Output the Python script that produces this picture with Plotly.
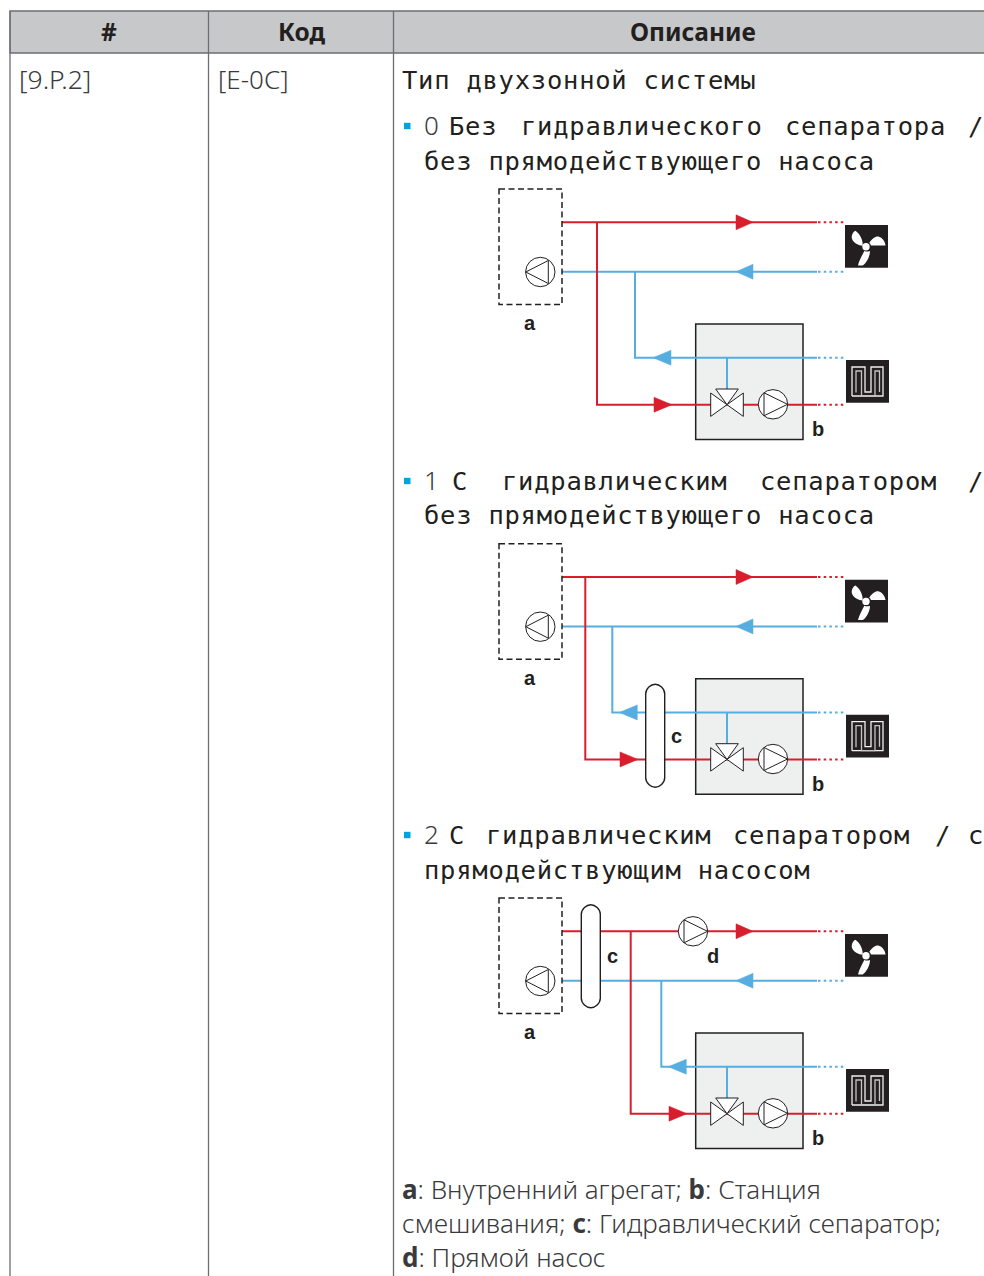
import plotly.graph_objects as go

W, H = 984, 1276
HEADERS = ["#", "Код", "Описание"]
HEADER_X = [108.5, 301, 693]
COL_LINES = [10, 208.5, 393.5]
ROW_ID = "[9.P.2]"
ROW_CODE = "[E-0C]"

# text runs: (x, y, text)
MONO_RUNS = [
    (401, 80, "Тип двухзонной системы"),
    (448, 125.5, "Без"), (520, 125.5, "гидравлического"), (784, 125.5, "сепаратора"), (967, 125.5, "/"),
    (423, 160.5, "без прямодействующего насоса"),
    (451, 480.5, "С"), (501, 480.5, "гидравлическим"), (759, 480.5, "сепаратором"), (967, 480.5, "/"),
    (423, 514.5, "без прямодействующего насоса"),
    (448, 834.5, "С"), (485, 834.5, "гидравлическим"), (732, 834.5, "сепаратором"), (934, 834.5, "/"), (967, 834.5, "с"),
    (423, 869.5, "прямодействующим насосом"),
]
BULLET_Y = [126, 481, 835]
BULLET_LABELS = ["0", "1", "2"]
LEGEND_LINES = [
    (1189, "<b>a</b>: Внутренний агрегат; <b>b</b>: Станция"),
    (1223, "смешивания; <b>c</b>: Гидравлический сепаратор;"),
    (1257, "<b>d</b>: Прямой насос"),
]

# diagram parameters
DY = [0, 354.7, 709]
RED_BRANCH_X = [597, 585.3, 630.7]
BLUE_BRANCH_X = [635, 612.3, 661.3]
RED_ARROW_X = [654, 620, 669]
BLUE_ARROW_X = [653, 619.3, 668.3]
SEPARATORS = [None, (645.7, 664.7, 684.3, 787.3, 676, 736), (581.3, 600.3, 904.7, 1007.7, 612, 956)]

RED = "#d81e2c"
BLUE = "#56ade0"
DARK = "#231f20"
GRID = "#6d6e71"
BODY_FONT = "Noto Sans"
MONO_FONT = "DejaVu Sans Mono"
LABEL_FONT = "Liberation Sans"

fig = go.Figure()
shapes, anns = [], []


def text(x, y, s, font, size, color=DARK, anchor="left", weight=None, spacing=None):
    f = dict(family=font, size=size, color=color)
    if weight:
        f["weight"] = weight
    if spacing:
        s = f'<span style="letter-spacing:{spacing}px">{s}</span>'
    anns.append(dict(x=x, y=y, text=s, xref="x", yref="y", showarrow=False, xanchor=anchor,
                     yanchor="middle", font=f, borderpad=0, align="left"))


def line(xs, ys, color, dash=None, width=2):
    fig.add_trace(go.Scatter(x=xs, y=ys, mode="lines", hoverinfo="skip", showlegend=False,
                             line=dict(color=color, width=width, dash=dash or "solid")))


def poly(pts, fill, edge, w=1.0, layer="above"):
    p = "M" + " L".join(f"{x},{y}" for x, y in pts) + " Z"
    shapes.append(dict(type="path", path=p, xref="x", yref="y", fillcolor=fill,
                       line=dict(color=edge, width=w), layer=layer))


def arrow(tip, base, y, color):
    poly([(tip, y), (base, y - 7.5), (base, y + 7.5)], color, color, 0.5)


def pump(cx, cy, right=True):
    shapes.append(dict(type="circle", xref="x", yref="y", x0=cx - 14.7, x1=cx + 14.7, y0=cy - 14.7, y1=cy + 14.7,
                       fillcolor="white", line=dict(color=DARK, width=1)))
    if right:
        poly([(cx - 9, cy - 11.5), (cx + 14.5, cy), (cx - 9, cy + 11.5)], "white", DARK, 1)
    else:
        poly([(cx + 8, cy - 11.5), (cx - 14.5, cy), (cx + 8, cy + 11.5)], "white", DARK, 1)


def separator(x0, x1, y0, y1):
    r = (x1 - x0) / 2
    k = r * 0.45
    xm = (x0 + x1) / 2
    p = (f"M{x0},{y0 + r} C{x0},{y0 + k} {xm - k},{y0} {xm},{y0} C{xm + k},{y0} {x1},{y0 + k} {x1},{y0 + r} "
         f"L{x1},{y1 - r} C{x1},{y1 - k} {xm + k},{y1} {xm},{y1} C{xm - k},{y1} {x0},{y1 - k} {x0},{y1 - r} Z")
    shapes.append(dict(type="path", path=p, xref="x", yref="y", fillcolor="white", line=dict(color=DARK, width=1.4)))


def fan(dy):
    cx, cy = 866, 246.7 + dy
    shapes.append(dict(type="rect", xref="x", yref="y", x0=845, x1=888, y0=225 + dy, y1=267.7 + dy,
                       fillcolor=DARK, line=dict(width=0)))
    blades = [
        f"M{cx-3.3},{cy-1} C{cx-3},{cy-7} {cx-6},{cy-13} {cx-10.7},{cy-16} C{cx-13},{cy-15} {cx-15},{cy-11} {cx-14},{cy-8} C{cx-13},{cy-4} {cx-7},{cy-1} {cx-3.3},{cy-1} Z",
        f"M{cx+3.3},{cy-4} C{cx+6},{cy-8} {cx+10},{cy-11} {cx+13},{cy-10} C{cx+16},{cy-9} {cx+19},{cy-6} {cx+19.5},{cy-1.3} L{cx+5},{cy-1.3} Q{cx+4.5},{cy-3} {cx+3.3},{cy-4} Z",
        f"M{cx-1.7},{cy+4.3} C{cx-4},{cy+9} {cx-7},{cy+14} {cx-8},{cy+18.7} L{cx-3.3},{cy+18.7} C{cx},{cy+17} {cx+4},{cy+10} {cx+4},{cy+4.3} Q{cx+1},{cy+5.5} {cx-1.7},{cy+4.3} Z",
    ]
    for b in blades:
        shapes.append(dict(type="path", path=b, xref="x", yref="y", fillcolor="white", line=dict(width=0)))
    shapes.append(dict(type="circle", xref="x", yref="y", x0=cx - 3.7, x1=cx + 3.7, y0=cy - 3.7, y1=cy + 3.7,
                       fillcolor="white", line=dict(width=0)))


FLOOR_OUTER = [(852, 396), (852, 367), (865, 367), (865, 392), (871, 392), (871, 367), (883, 367), (883, 396), (862, 396), (852, 396)]
FLOOR_INNER = [(856, 392.5), (856, 371), (861.5, 371), (861.5, 396), (875, 396), (875, 371), (879.5, 371), (879.5, 392)]


def floor(dy):
    shapes.append(dict(type="rect", xref="x", yref="y", x0=846, x1=889, y0=360 + dy, y1=402.7 + dy,
                       fillcolor=DARK, line=dict(width=0)))
    for pts, c in ((FLOOR_OUTER, "#f0f0f0"), (FLOOR_INNER, "#c4c4c4")):
        p = "M" + " L".join(f"{x},{y + dy}" for x, y in pts)
        shapes.append(dict(type="path", path=p, xref="x", yref="y", line=dict(color=c, width=1.3)))


# Table
shapes.append(dict(type="rect", xref="x", yref="y", x0=COL_LINES[0], x1=W + 2, y0=11, y1=53, fillcolor="#c7c8ca",
                   line=dict(color=GRID, width=1.3), layer="below"))
for cx in COL_LINES:
    shapes.append(dict(type="line", xref="x", yref="y", x0=cx, x1=cx, y0=11, y1=H + 2,
                       line=dict(color=GRID, width=1.3), layer="below"))
for s, x in zip(HEADERS, HEADER_X):
    text(x, 31.5, s, BODY_FONT, 24.5, anchor="center", weight=700)
text(18, 79, ROW_ID, BODY_FONT, 26.5, color="#3a3a3c", weight=300)
text(217, 79, ROW_CODE, BODY_FONT, 26, color="#3a3a3c", weight=300)

for x, y, s in MONO_RUNS:
    text(x, y, s, MONO_FONT, 25.5, spacing=0.75)
for y, s in zip(BULLET_Y, BULLET_LABELS):
    shapes.append(dict(type="rect", xref="x", yref="y", x0=404, x1=410.5, y0=y - 3.2, y1=y + 3.2,
                       fillcolor="#00a3e0", line=dict(width=0)))
    text(423, y - 1, s, BODY_FONT, 26, color="#3a3a3c", weight=300)
for y, s in LEGEND_LINES:
    text(401, y, s, BODY_FONT, 26, color="#3a3a3c", weight=300)

# Diagrams
for i, dy in enumerate(DY):
    r_y, b_y = 222.3 + dy, 271.7 + dy
    low_r, low_b = 404.7 + dy, 357.7 + dy
    shapes.append(dict(type="rect", xref="x", yref="y", x0=499, x1=562, y0=189 + dy, y1=304.5 + dy,
                       line=dict(color=DARK, width=1.5, dash="6px,3.5px")))
    shapes.append(dict(type="rect", xref="x", yref="y", x0=695.7, x1=803, y0=324 + dy, y1=439.5 + dy,
                       fillcolor="#eef0f0", line=dict(color=DARK, width=1.5), layer="below"))
    line([562, 817], [r_y, r_y], RED)
    line([818, 845], [r_y, r_y], RED, "2.5px,3.2px")
    line([562, 817], [b_y, b_y], BLUE)
    line([818, 845], [b_y, b_y], BLUE, "2.5px,3.2px")
    line([RED_BRANCH_X[i], RED_BRANCH_X[i], 817], [r_y, low_r, low_r], RED)
    line([818, 845], [low_r, low_r], RED, "2.5px,3.2px")
    line([BLUE_BRANCH_X[i], BLUE_BRANCH_X[i], 817], [b_y, low_b, low_b], BLUE)
    line([818, 845], [low_b, low_b], BLUE, "2.5px,3.2px")
    line([727, 727], [low_b, 389 + dy], BLUE)
    arrow(753, 736, r_y, RED)
    arrow(736, 753, b_y, BLUE)
    arrow(RED_ARROW_X[i] + 18, RED_ARROW_X[i], low_r, RED)
    arrow(BLUE_ARROW_X[i], BLUE_ARROW_X[i] + 18, low_b, BLUE)
    # valve
    vy = 404.7 + dy
    poly([(727, vy), (710.7, vy - 11.7), (710.7, vy + 11.7)], "white", DARK)
    poly([(727, vy), (743.3, vy - 11.7), (743.3, vy + 11.7)], "white", DARK)
    poly([(727, vy), (715.7, vy - 15.7), (738.3, vy - 15.7)], "white", DARK)
    pump(773, 404.3 + dy)
    pump(540.3, 272 + dy, right=False)
    fan(dy)
    floor(dy)
    text(530, 323 + dy, "a", LABEL_FONT, 20, weight=700, anchor="center")
    text(818, 429 + dy, "b", LABEL_FONT, 20, weight=700, anchor="center")
    if SEPARATORS[i]:
        x0, x1, y0, y1, lx, ly = SEPARATORS[i]
        separator(x0, x1, y0, y1)
        text(lx, ly, "c", LABEL_FONT, 20, weight=700, anchor="center")
pump(693, 931.3)
text(713, 956, "d", LABEL_FONT, 20, weight=700, anchor="center")

fig.update_layout(
    width=W, height=H, margin=dict(l=0, r=0, t=0, b=0), paper_bgcolor="white", plot_bgcolor="white",
    xaxis=dict(range=[0, W], visible=False, fixedrange=True),
    yaxis=dict(range=[H, 0], visible=False, fixedrange=True),
    shapes=shapes, annotations=anns, showlegend=False,
)
fig.write_html("out.html", config=dict(displayModeBar=False),
               post_script="document.body.style.margin='0';document.body.style.overflow='hidden';")
